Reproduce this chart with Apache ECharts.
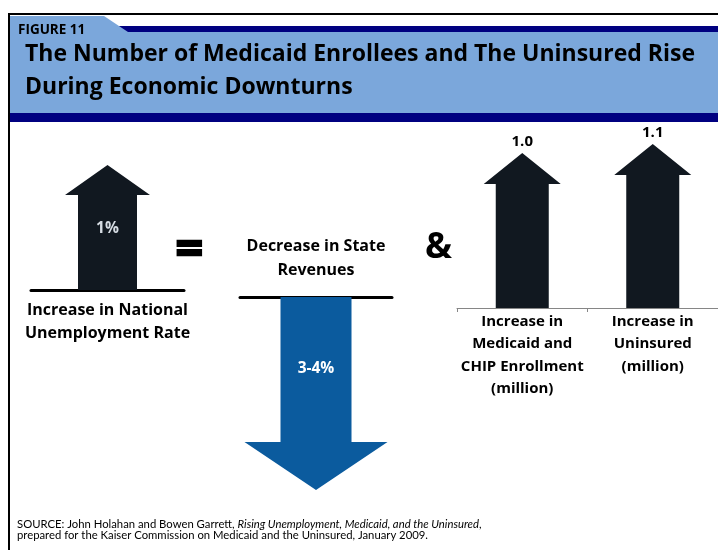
<!DOCTYPE html>
<html>
<head>
<meta charset="utf-8">
<script src="https://cdn.jsdelivr.net/npm/echarts@6/dist/echarts.min.js"></script>
<style>
html,body{margin:0;padding:0;background:#fff;}
#c{width:718px;height:550px;}
</style>
</head>
<body>
<div id="c"></div>
<script>
// ---- data ----
const figureLabel = 'FIGURE 11';
const titleLines = ['The Number of Medicaid Enrollees and The Uninsured Rise', 'During Economic Downturns'];
const leftCategories = ['Increase in National\nUnemployment Rate'];
const leftValues = [1];
const leftLabels = ['1%'];
const midCategories = ['Decrease in State\nRevenues'];
const midValues = [-3.5];
const midLabels = ['3-4%'];
const rightCategories = ['Increase in\nMedicaid and\nCHIP Enrollment\n(million)', 'Increase in\nUninsured\n(million)'];
const rightValues = [1.0, 1.1];
const rightLabels = ['1.0', '1.1'];
const sourcePlain = 'SOURCE: John Holahan and Bowen Garrett, ';
const sourceItalic = 'Rising Unemployment, Medicaid, and the Uninsured';
const sourceLine2 = 'prepared for the Kaiser Commission on Medicaid and the Uninsured, January 2009.';

const FONT = '"Open Sans", Lato, sans-serif';
const FONT2 = 'Lato, "Open Sans", sans-serif';

function arrowRender(opt) {
  return function (params, api) {
    const i = api.value(0), v = api.value(1);
    const cs = params.coordSys;
    const tip = api.coord([i, v]);
    const cx = tip[0], ty = tip[1];
    const dir = opt.dir; // 1 up, -1 down
    const base = dir > 0 ? cs.y + cs.height : cs.y;
    const hb = ty + dir * opt.headH;
    const sw = opt.shaftW / 2, hw = opt.headW / 2;
    const pts = [[cx - sw, base], [cx - sw, hb], [cx - hw, hb], [cx, ty], [cx + hw, hb], [cx + sw, hb], [cx + sw, base]];
    const labelY = opt.above ? ty - opt.aboveOff : base + opt.frac * (ty - base);
    return {
      type: 'group',
      children: [
        { type: 'polygon', shape: { points: pts }, style: { fill: opt.color } },
        {
          type: 'text',
          style: {
            x: cx, y: labelY, text: opt.labels[params.dataIndex],
            fill: opt.labelColor, font: 'bold ' + opt.labelSize + 'px ' + FONT,
            textAlign: 'center', textVerticalAlign: 'middle'
          }
        }
      ]
    };
  };
}

const chart = echarts.init(document.getElementById('c'), null, { renderer: 'canvas' });

const option = {
  backgroundColor: '#ffffff',
  animation: false,
  title: [
    {
      text: figureLabel, left: 18, top: 22, padding: 0,
      textStyle: { fontFamily: FONT, fontWeight: 'bold', fontSize: 13.5, color: '#000', lineHeight: 16 }
    },
    {
      text: titleLines.join('\n'), left: 25, top: 38, padding: 0,
      textStyle: { fontFamily: FONT, fontWeight: 'bold', fontSize: 23, color: '#000', lineHeight: 33 }
    }
  ],
  graphic: [
    { type: 'rect', z: -10, shape: { x: 9, y: 14, width: 720, height: 550 }, style: { fill: '#fff', stroke: '#000', lineWidth: 2 } },
    { type: 'rect', z: -9, shape: { x: 110, y: 26, width: 610, height: 6 }, style: { fill: '#000080' } },
    { type: 'rect', z: -9, shape: { x: 10, y: 32, width: 710, height: 81 }, style: { fill: '#7BA7DB' } },
    { type: 'polygon', z: -8, shape: { points: [[10, 16], [104, 16], [128, 32], [10, 32]] }, style: { fill: '#7BA7DB' } },
    { type: 'rect', z: -9, shape: { x: 10, y: 113, width: 710, height: 9 }, style: { fill: '#000080' } },
    {
      type: 'text', left: 173, top: 221,
      style: { text: '=', font: 'bold 52px ' + FONT2, fill: '#000', stroke: '#000', lineWidth: 2.5 }
    },
    {
      type: 'text', left: 425, top: 230,
      style: { text: '&', font: 'bold 36px ' + FONT, fill: '#000' }
    },
    {
      type: 'text', left: 17, top: 519,
      style: {
        text: '{a|' + sourcePlain + '}{b|' + sourceItalic + '}{a|,}\n{a|' + sourceLine2 + '}',
        rich: {
          a: { fontFamily: FONT2, fontSize: 11.3, fill: '#000', lineHeight: 11 },
          b: { fontFamily: FONT2, fontSize: 11.3, fontStyle: 'italic', fill: '#000', lineHeight: 11 }
        }
      }
    }
  ],
  grid: [
    { left: 31, top: 165, width: 153, height: 125 },
    { left: 240, top: 297, width: 152, height: 193 },
    { left: 457, top: 144, width: 268, height: 164 }
  ],
  xAxis: [
    {
      gridIndex: 0, type: 'category', data: leftCategories,
      axisLine: { lineStyle: { color: '#000', width: 3 } }, axisTick: { show: false },
      axisLabel: { margin: 9, fontFamily: FONT, fontWeight: 'bold', fontSize: 16, color: '#000', lineHeight: 23, interval: 0 }
    },
    {
      gridIndex: 1, type: 'category', data: midCategories, position: 'top',
      axisLine: { onZero: false, lineStyle: { color: '#000', width: 3 } }, axisTick: { show: false },
      axisLabel: { margin: 15, fontFamily: FONT, fontWeight: 'bold', fontSize: 16, color: '#000', lineHeight: 24, interval: 0 }
    },
    {
      gridIndex: 2, type: 'category', data: rightCategories,
      axisLine: { onZero: false, lineStyle: { color: '#868686', width: 1 } },
      axisTick: { show: true, length: 4, lineStyle: { color: '#868686' } },
      axisLabel: { margin: 2, fontFamily: FONT, fontWeight: 'bold', fontSize: 15, color: '#000', lineHeight: 22.5, interval: 0 }
    }
  ],
  yAxis: [
    { gridIndex: 0, type: 'value', min: 0, max: 1, show: false },
    { gridIndex: 1, type: 'value', min: -3.5, max: 0, show: false },
    { gridIndex: 2, type: 'value', min: -0.72, max: 1.1, show: false }
  ],
  series: [
    {
      type: 'custom', xAxisIndex: 0, yAxisIndex: 0,
      data: leftValues.map((v, i) => [i, v]), encode: { x: 0, y: 1 },
      renderItem: arrowRender({ dir: 1, shaftW: 59, headW: 85, headH: 30, color: '#111820', labels: leftLabels, frac: 0.49, labelColor: '#D6DCE3', labelSize: 15.5 })
    },
    {
      type: 'custom', xAxisIndex: 1, yAxisIndex: 1,
      data: midValues.map((v, i) => [i, v]), encode: { x: 0, y: 1 },
      renderItem: arrowRender({ dir: -1, shaftW: 71, headW: 143, headH: 48, color: '#0B5B9E', labels: midLabels, frac: 0.373, labelColor: '#FFFFFF', labelSize: 15.5 })
    },
    {
      type: 'custom', xAxisIndex: 2, yAxisIndex: 2,
      data: rightValues.map((v, i) => [i, v]), encode: { x: 0, y: 1 },
      renderItem: arrowRender({ dir: 1, shaftW: 53, headW: 77, headH: 31, color: '#111820', labels: rightLabels, above: true, aboveOff: 11, labelColor: '#000', labelSize: 15 })
    }
  ]
};
chart.setOption(option);
</script>
</body>
</html>
